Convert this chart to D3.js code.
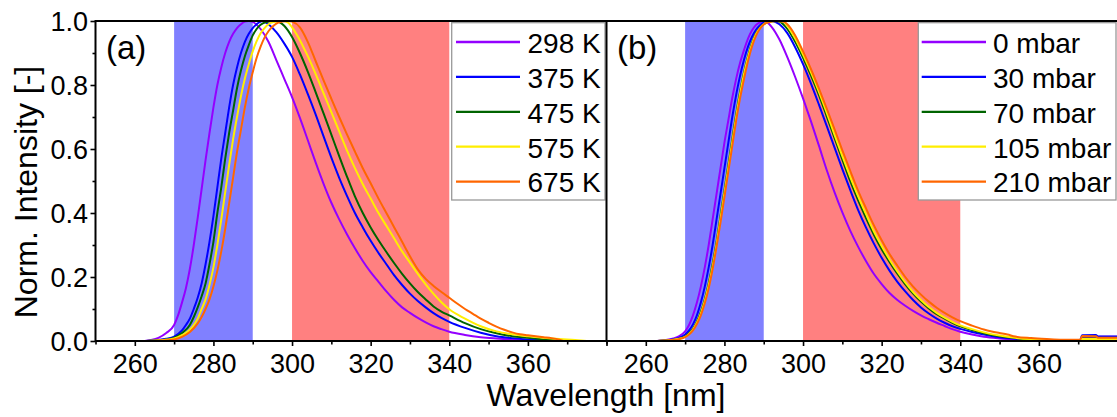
<!DOCTYPE html>
<html>
<head>
<meta charset="utf-8">
<script src="https://cdn.jsdelivr.net/npm/d3@7"></script>
<style>
  body { margin: 0; background: #fff; }
  svg { display: block; font-family: "Liberation Sans", Arial, sans-serif; }
</style>
</head>
<body>
<div class="chart-area"></div>
<script>
// panel (a): temperature series, [wavelength nm, normalised intensity]
const a298 = [[262.5,0],[264,0.003],[266,0.01],[268,0.025],[270,0.05],[271,0.08],[272,0.12],[273,0.165],[274,0.225],[275,0.3],[276,0.385],[277,0.475],[278,0.565],[279,0.65],[280,0.73],[281,0.8],[282,0.855],[283,0.9],[284,0.935],[285,0.96],[286,0.978],[287,0.99],[288,0.998],[289,1.0],[290,0.997],[292,0.975],[294,0.935],[296,0.878],[298,0.82],[300,0.762],[302,0.697],[304,0.628],[306,0.558],[308,0.492],[310,0.432],[312,0.38],[314,0.333],[316,0.29],[318,0.25],[320,0.215],[322,0.185],[324,0.155],[326,0.128],[328,0.105],[330,0.088],[332,0.072],[334,0.058],[336,0.046],[338,0.037],[340,0.029],[344,0.019],[348,0.012],[352,0.008],[356,0.005],[360,0.003],[364,0.001],[367,0]];
const a375 = [[262.8,0],[266,0.003],[268,0.007],[270,0.014],[272,0.033],[273,0.05],[274,0.07],[275,0.1],[276,0.135],[277,0.18],[278,0.24],[279,0.31],[280,0.39],[281,0.48],[282,0.57],[283,0.65],[284,0.73],[285,0.8],[286,0.855],[287,0.9],[288,0.935],[289,0.96],[290,0.978],[291,0.99],[292.5,1.0],[294,0.99],[296,0.965],[298,0.93],[300,0.888],[302,0.833],[304,0.772],[306,0.708],[308,0.64],[310,0.573],[312,0.51],[314,0.453],[316,0.4],[318,0.355],[320,0.313],[322,0.275],[324,0.24],[326,0.205],[328,0.175],[330,0.148],[332,0.125],[334,0.105],[336,0.087],[338,0.072],[340,0.06],[344,0.041],[348,0.026],[352,0.015],[356,0.009],[360,0.005],[364,0.002],[369,0]];
const a475 = [[263,0],[266,0.002],[268,0.005],[270,0.01],[272,0.025],[274,0.05],[275,0.075],[276,0.105],[277,0.14],[278,0.18],[279,0.24],[280,0.31],[281,0.4],[282,0.48],[283,0.57],[284,0.65],[285,0.72],[286,0.79],[287,0.845],[288,0.89],[289,0.925],[290,0.955],[291,0.975],[292,0.988],[293.5,0.997],[295.5,1.0],[297,0.995],[298,0.985],[300,0.95],[302,0.9],[304,0.842],[306,0.778],[308,0.712],[310,0.645],[312,0.578],[314,0.513],[316,0.452],[318,0.4],[320,0.355],[322,0.315],[324,0.278],[326,0.243],[328,0.21],[330,0.18],[332,0.153],[334,0.13],[336,0.108],[338,0.092],[340,0.08],[344,0.056],[348,0.037],[352,0.024],[356,0.015],[360,0.01],[364,0.005],[368,0.002],[371,0]];
const a575 = [[263,0],[266,0.002],[270,0.008],[272,0.018],[274,0.035],[275,0.05],[276,0.07],[277,0.1],[278,0.13],[279,0.175],[280,0.23],[281,0.3],[282,0.38],[283,0.465],[284,0.55],[285,0.63],[286,0.7],[287,0.765],[288,0.82],[289,0.865],[290,0.905],[291,0.937],[292,0.962],[293,0.978],[294,0.99],[295.5,0.997],[297.5,1.0],[299,0.995],[300,0.98],[302,0.94],[304,0.89],[306,0.835],[308,0.775],[310,0.715],[312,0.655],[314,0.595],[316,0.54],[318,0.49],[320,0.445],[322,0.4],[324,0.36],[326,0.32],[328,0.28],[330,0.245],[332,0.21],[334,0.177],[336,0.147],[338,0.121],[340,0.099],[344,0.07],[348,0.046],[352,0.03],[356,0.021],[360,0.015],[364,0.01],[368,0.006],[372,0.003],[375,0]];
const a675 = [[262.5,0],[266,0.001],[270,0.005],[272,0.013],[274,0.028],[276,0.055],[277,0.075],[278,0.1],[279,0.13],[280,0.17],[281,0.22],[282,0.28],[283,0.35],[284,0.43],[285,0.51],[286,0.59],[287,0.66],[288,0.73],[289,0.79],[290,0.84],[291,0.885],[292,0.92],[293,0.948],[294,0.968],[295,0.982],[296,0.992],[297.5,0.998],[299,1.0],[300,0.998],[302,0.98],[304,0.935],[306,0.875],[308,0.815],[310,0.757],[312,0.7],[314,0.645],[316,0.592],[318,0.54],[320,0.493],[322,0.445],[324,0.4],[326,0.355],[328,0.31],[330,0.265],[332,0.224],[334,0.194],[336,0.172],[338,0.153],[340,0.135],[342,0.117],[344,0.1],[346,0.085],[348,0.07],[350,0.057],[352,0.045],[354,0.035],[356,0.027],[358,0.021],[360,0.018],[362,0.015],[364,0.012],[366,0.009],[368,0.004],[369,0]];

// panel (b): pressure series
const b0 = [[262.8,0],[265,0.003],[267,0.008],[268.5,0.015],[270,0.03],[271,0.05],[272,0.08],[273,0.12],[274,0.17],[275,0.23],[276,0.3],[277,0.38],[278,0.46],[279,0.54],[280,0.62],[281,0.69],[282,0.76],[283,0.82],[284,0.87],[285,0.91],[286,0.945],[287,0.97],[288,0.987],[289,0.996],[290,1.0],[291,0.995],[292,0.982],[294,0.942],[296,0.887],[298,0.825],[300,0.758],[302,0.687],[304,0.612],[306,0.535],[308,0.465],[310,0.402],[312,0.345],[314,0.295],[316,0.25],[318,0.21],[320,0.178],[322,0.15],[324,0.128],[326,0.11],[328,0.094],[330,0.08],[332,0.068],[334,0.057],[336,0.047],[338,0.037],[340,0.029],[343,0.02],[346,0.013],[350,0.008],[354,0.005],[358,0.003],[362,0.001],[370.5,0.002],[371,0.012],[375,0.013],[380,0.013]];
const b30 = [[263,0],[266,0.003],[268,0.008],[270,0.02],[271,0.033],[272,0.052],[273,0.08],[274,0.12],[275,0.17],[276,0.23],[277,0.3],[278,0.38],[279,0.46],[280,0.54],[281,0.62],[282,0.7],[283,0.77],[284,0.83],[285,0.88],[286,0.92],[287,0.95],[288,0.972],[289,0.986],[290,0.995],[292,1.0],[293,0.997],[294,0.99],[296,0.962],[298,0.918],[300,0.865],[302,0.805],[304,0.74],[306,0.673],[308,0.605],[310,0.537],[312,0.472],[314,0.41],[316,0.355],[318,0.305],[320,0.26],[322,0.22],[324,0.185],[326,0.155],[328,0.128],[330,0.105],[332,0.086],[334,0.07],[336,0.057],[338,0.046],[340,0.038],[343,0.028],[346,0.02],[350,0.012],[354,0.007],[358,0.004],[362,0.002],[366,0.001],[370.5,0.003],[371,0.018],[374.5,0.019],[375,0.014],[380,0.014]];
const b70 = [[263,0],[266,0.002],[268,0.006],[270,0.014],[271,0.024],[272,0.038],[273,0.06],[274,0.09],[275,0.13],[276,0.18],[277,0.24],[278,0.31],[279,0.39],[280,0.47],[281,0.55],[282,0.63],[283,0.71],[284,0.78],[285,0.84],[286,0.89],[287,0.93],[288,0.96],[289,0.978],[290,0.99],[291,0.996],[293,1.0],[294,0.998],[296,0.975],[298,0.935],[300,0.885],[302,0.83],[304,0.77],[306,0.703],[308,0.635],[310,0.567],[312,0.5],[314,0.44],[316,0.385],[318,0.333],[320,0.287],[322,0.247],[324,0.21],[326,0.177],[328,0.148],[330,0.123],[332,0.102],[334,0.084],[336,0.07],[338,0.057],[340,0.046],[343,0.034],[346,0.024],[350,0.015],[354,0.009],[358,0.005],[362,0.003],[366,0.001],[370.5,0.002],[371,0.008],[380,0.008]];
const b105 = [[263,0],[266,0.002],[268,0.006],[270,0.013],[271,0.022],[272,0.036],[273,0.057],[274,0.086],[275,0.125],[276,0.174],[277,0.233],[278,0.303],[279,0.382],[280,0.462],[281,0.542],[282,0.622],[283,0.702],[284,0.773],[285,0.835],[286,0.886],[287,0.927],[288,0.958],[289,0.977],[290,0.99],[291,0.996],[293.3,1.0],[295,0.998],[296,0.985],[298,0.945],[300,0.895],[302,0.84],[304,0.78],[306,0.714],[308,0.645],[310,0.578],[312,0.513],[314,0.453],[316,0.397],[318,0.343],[320,0.297],[322,0.255],[324,0.217],[326,0.183],[328,0.153],[330,0.128],[332,0.106],[334,0.088],[336,0.073],[338,0.06],[340,0.049],[343,0.037],[346,0.027],[350,0.017],[354,0.01],[358,0.006],[362,0.004],[366,0.002],[370.5,0.002],[371,0.006],[380,0.006]];
const b210 = [[263,0],[266,0.002],[268,0.005],[270,0.012],[271,0.02],[272,0.033],[273,0.053],[274,0.08],[275,0.118],[276,0.165],[277,0.225],[278,0.295],[279,0.37],[280,0.45],[281,0.53],[282,0.61],[283,0.69],[284,0.76],[285,0.82],[286,0.875],[287,0.92],[288,0.953],[289,0.975],[290,0.989],[291,0.996],[293.5,1.0],[295,0.998],[296,0.99],[298,0.955],[300,0.905],[302,0.85],[304,0.79],[306,0.727],[308,0.662],[310,0.596],[312,0.532],[314,0.47],[316,0.415],[318,0.362],[320,0.315],[322,0.272],[324,0.235],[326,0.2],[328,0.17],[330,0.145],[332,0.123],[334,0.104],[336,0.088],[338,0.074],[340,0.062],[343,0.048],[346,0.036],[348,0.03],[350,0.025],[352,0.02],[354,0.014],[358,0.009],[362,0.006],[366,0.004],[370.5,0.004],[371,0.016],[374.5,0.015],[375,0.01],[380,0.01]];

const labelsA = ["298 K", "375 K", "475 K", "575 K", "675 K"];
const labelsB = ["0 mbar", "30 mbar", "70 mbar", "105 mbar", "210 mbar"];
const seriesColors = ["#9400ff", "#0000ff", "#006400", "#ffee00", "#ff6600"];
const bands = [[270, 290, "#8080ff"], [300, 340, "#ff8080"]];
const xDomain = [250, 380];
const xLabelTicks = [260, 280, 300, 320, 340, 360];

const width = 1117, height = 417;
const yTop = 21, yBottom = 341;
const font = "Liberation Sans, Arial, sans-serif";

const svg = d3.select(".chart-area").append("svg")
  .attr("width", width).attr("height", height)
  .attr("viewBox", [0, 0, width, height]);

const y = d3.scaleLinear().domain([0, 1]).range([yBottom, yTop]);

const panels = [
  {id: "a", x0: 95.5, x1: 606.5, data: [a298, a375, a475, a575, a675], labels: labelsA,
   tag: "(a)", legend: {x: 451.7, w: 153.3, lineX: 456, lineW: 64, textX: 527.5}},
  {id: "b", x0: 606.5, x1: 1117.5, data: [b0, b30, b70, b105, b210], labels: labelsB,
   tag: "(b)", legend: {x: 918.3, w: 197.7, lineX: 921.7, lineW: 64.3, textX: 993}}
];

panels.forEach(p => {
  const x = d3.scaleLinear().domain(xDomain).range([p.x0, p.x1]);

  svg.append("clipPath").attr("id", "clip-" + p.id)
    .append("rect").attr("x", p.x0).attr("y", yTop)
    .attr("width", p.x1 - p.x0).attr("height", yBottom - yTop);

  const g = svg.append("g").attr("clip-path", `url(#clip-${p.id})`);

  // shaded bands
  g.selectAll("rect.band")
    .data(bands)
    .join("rect")
    .attr("class", "band")
    .attr("x", d => x(d[0]))
    .attr("y", yTop)
    .attr("width", d => x(d[1]) - x(d[0]))
    .attr("height", yBottom - yTop)
    .attr("fill", d => d[2]);

  const line = d3.line()
    .x(d => x(d[0]))
    .y(d => y(d[1]))
    .curve(d3.curveMonotoneX);

  g.selectAll("path.spec")
    .data(p.data)
    .join("path")
    .attr("class", "spec")
    .attr("d", line)
    .attr("fill", "none")
    .attr("stroke", (d, i) => seriesColors[i])
    .attr("stroke-width", 2);

  // x axis: minor then major ticks
  const minor = svg.append("g")
    .attr("transform", `translate(0,${yBottom})`)
    .call(d3.axisBottom(x).tickValues(d3.range(250, 381, 10).filter(v => v % 20 !== 0))
      .tickSize(3.5).tickFormat(""));
  const major = svg.append("g")
    .attr("transform", `translate(0,${yBottom})`)
    .call(d3.axisBottom(x).tickValues(d3.range(260, 381, 20)).tickSize(5)
      .tickFormat(d => xLabelTicks.includes(d) ? d : ""));
  [minor, major].forEach(a => {
    a.select(".domain").remove();
    a.selectAll("line").attr("stroke", "#000").attr("stroke-width", 1.6);
  });
  major.selectAll("text")
    .attr("y", 32).attr("dy", null)
    .attr("fill", "#000")
    .style("font-size", "27px").style("font-family", font);

  // legend
  const L = p.legend;
  const lg = svg.append("g");
  lg.append("rect")
    .attr("x", L.x).attr("y", 22.7)
    .attr("width", L.w).attr("height", 177.3)
    .attr("fill", "#fff").attr("stroke", "#999").attr("stroke-width", 1.3);
  const items = lg.selectAll("g.item")
    .data(p.labels)
    .join("g")
    .attr("class", "item")
    .attr("transform", (d, i) => `translate(0,${42 + i * 34.9})`);
  items.append("line")
    .attr("x1", L.lineX).attr("x2", L.lineX + L.lineW)
    .attr("stroke", (d, i) => seriesColors[i])
    .attr("stroke-width", 2.3);
  items.append("text")
    .attr("x", L.textX).attr("y", 10.8)
    .style("font-size", "28px").style("font-family", font)
    .text(d => d);

  svg.append("text")
    .attr("x", p.x0 + 10.5).attr("y", 59)
    .style("font-size", "33px").style("font-family", font)
    .text(p.tag);
});

// y axis (left panel only)
const yMinor = svg.append("g").attr("transform", "translate(95.5,0)")
  .call(d3.axisLeft(y).tickValues([0.1, 0.3, 0.5, 0.7, 0.9]).tickSize(3).tickFormat(""));
const yMajor = svg.append("g").attr("transform", "translate(95.5,0)")
  .call(d3.axisLeft(y).tickValues([0, 0.2, 0.4, 0.6, 0.8, 1.0]).tickSize(5).tickFormat(d3.format(".1f")));
[yMinor, yMajor].forEach(a => {
  a.select(".domain").remove();
  a.selectAll("line").attr("stroke", "#000").attr("stroke-width", 1.6);
});
yMajor.selectAll("text")
  .attr("x", -7.5).attr("dy", "0.36em")
  .attr("fill", "#000")
  .style("font-size", "27px").style("font-family", font);

// frame lines
svg.append("path")
  .attr("d", `M95.5,${yBottom}V${yTop}H${width}M95.5,${yBottom}H${width}M606.5,${yTop}V${yBottom}`)
  .attr("fill", "none").attr("stroke", "#000").attr("stroke-width", 2);

// axis titles
svg.append("text")
  .attr("x", 606).attr("y", 406)
  .attr("text-anchor", "middle")
  .style("font-size", "32px").style("font-family", font)
  .text("Wavelength [nm]");

svg.append("text")
  .attr("transform", "translate(36.5,192) rotate(-90)")
  .attr("text-anchor", "middle")
  .style("font-size", "32px").style("font-family", font)
  .text("Norm. Intensity [-]");
</script>
</body>
</html>
